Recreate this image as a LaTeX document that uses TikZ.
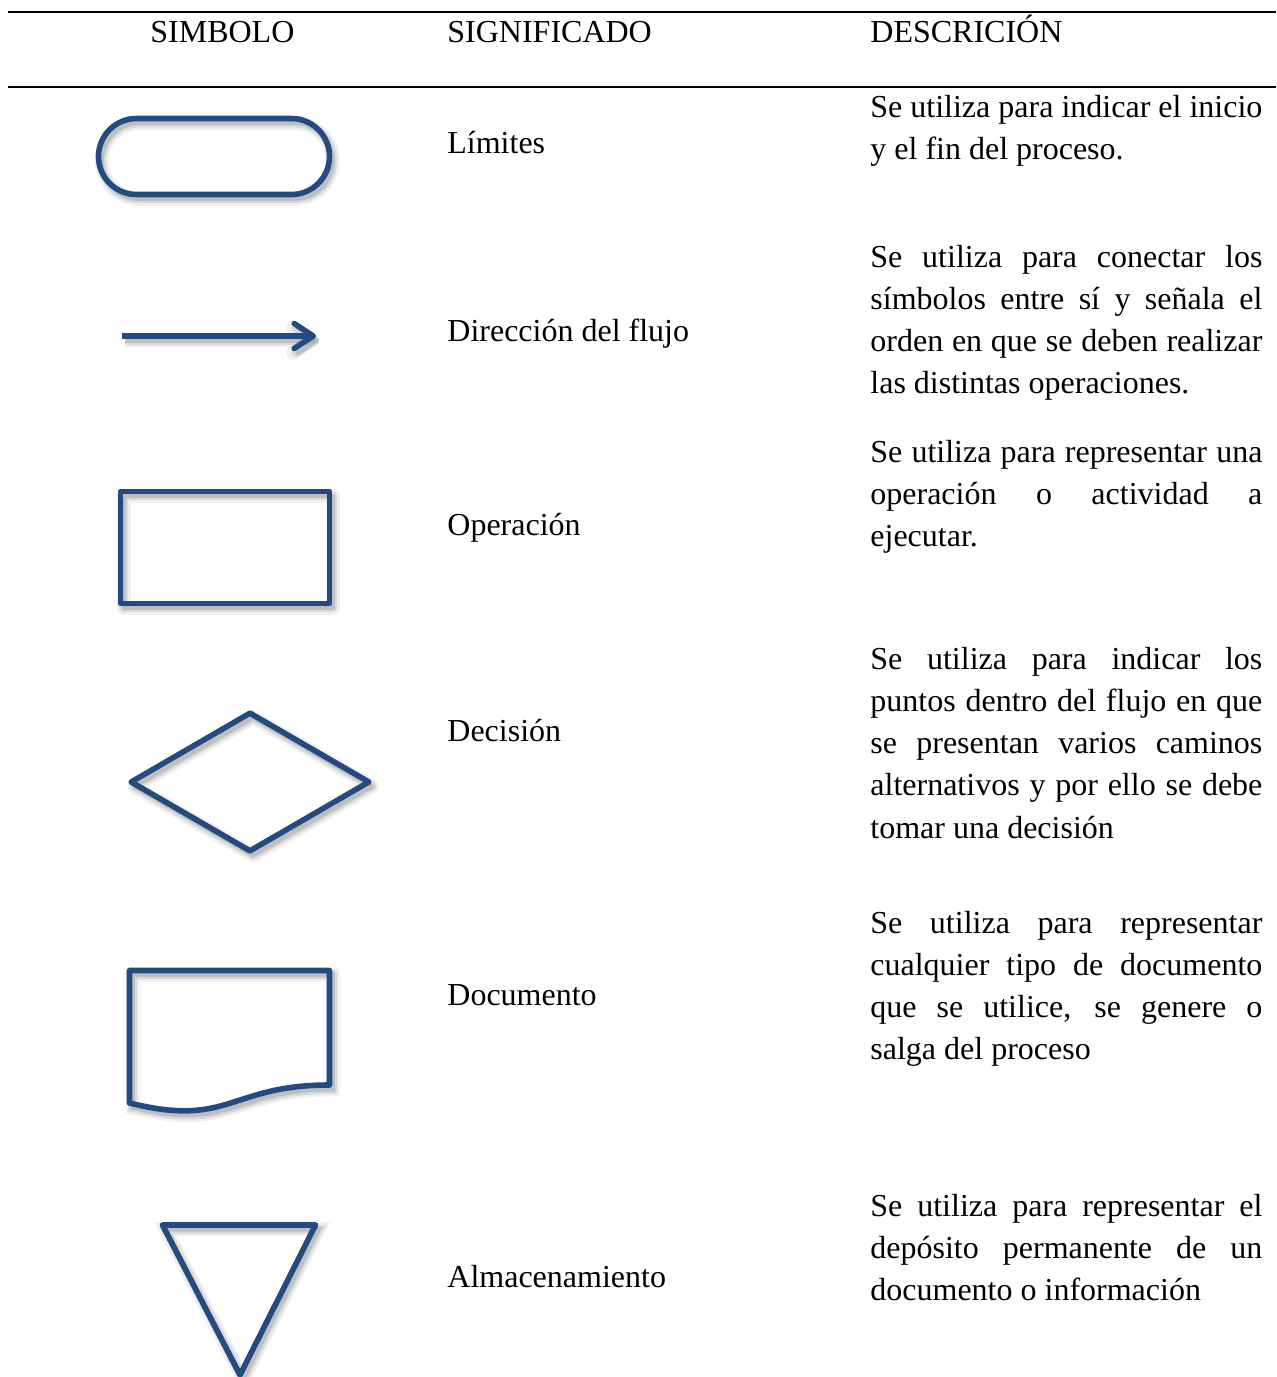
\documentclass[tikz,border=0pt]{standalone}
\usepackage{fontspec}
\setmainfont{Liberation Serif}
\usetikzlibrary{shapes.geometric,shapes.misc,shadows,arrows.meta}
\definecolor{symblue}{RGB}{35,75,128}
\begin{document}
\begin{tikzpicture}
	[	x=.5pt,y=-.5pt,
	symbol/.style={draw=symblue,line width=2.8pt,line join=round,fill=none,inner sep=0pt,
		general shadow={draw=black,opacity=.06,line width=7pt,shadow xshift=1.6pt,shadow yshift=-2.2pt},
		general shadow={draw=black,opacity=.09,line width=4.5pt,shadow xshift=1.6pt,shadow yshift=-2.2pt},
		general shadow={draw=black,opacity=.12,line width=2.2pt,shadow xshift=1.6pt,shadow yshift=-2.2pt}},
	rule/.style={draw=black,line width=1.2pt},
	head/.style={anchor=base west,inner sep=0pt,font=\fontsize{16pt}{21.15pt}\selectfont},
	desc/.style={head,text width=196pt,align=justify}
	]
	\useasboundingbox (0,0) rectangle (1276,1377);
	\draw[rule] (8,12) -- (1276,12);
	\draw[rule] (8,87) -- (1276,87);

	\node[head] (hsim) at (150,42){SIMBOLO};
	\node[head] (hsig) at (447,42){SIGNIFICADO};
	\node[head] (hdes) at (870,42){DESCRICIÓN};

	\node[symbol,rounded rectangle,minimum width=115.5pt,minimum height=38pt] (slim) at (214,156.5){};
	\coordinate (fa) at (122,336);
	\coordinate (fb) at (316,336);
	\draw[symbol,-{Straight Barb[length=9.5pt,width=12.5pt,round]}] (fa) -- (fb);
	\node[symbol,rectangle,minimum width=104.5pt,minimum height=56pt] (soper) at (225,547.5){};
	\node[symbol,diamond,minimum width=120pt,minimum height=70pt] (sdeci) at (250,782){};
	\draw[symbol] (129.5,970.5) -- (329.5,970.5) -- (329.5,1085) .. controls (229.5,1085) and (229.5,1128) .. (129.5,1103) -- cycle;
	\draw[symbol] (162.5,1225) -- (315.5,1225) -- (240,1375) -- cycle;

\node[head] (mlim) at (447,153){Límites};
\node[head] (mflujo) at (447,341){Dirección del flujo};
\node[head] (moper) at (447,535){Operación};
\node[head] (mdeci) at (447,741){Decisión};
\node[head] (mdocu) at (447,1005){Documento};
\node[head] (malma) at (447,1287){Almacenamiento};

\node[desc] (dlim) at (870,117){Se utiliza para indicar el inicio\linebreak y el fin del proceso.};
\node[desc] (dflujo) at (870,267){Se utiliza para conectar los\linebreak símbolos entre sí y señala el\linebreak orden en que se deben realizar\linebreak las distintas operaciones.};
\node[desc] (doper) at (870,462){Se utiliza para representar una\linebreak operación o actividad a\linebreak ejecutar.};
\node[desc] (ddeci) at (870,669){Se utiliza para indicar los\linebreak puntos dentro del flujo en que\linebreak se presentan varios caminos\linebreak alternativos y por ello se debe\linebreak tomar una decisión};
\node[desc] (ddocu) at (870,933){Se utiliza para representar\linebreak cualquier tipo de documento\linebreak que se utilice, se genere o\linebreak salga del proceso};
\node[desc] (dalma) at (870,1216){Se utiliza para representar el\linebreak depósito permanente de un\linebreak documento o información};
\end{tikzpicture}
\end{document}
